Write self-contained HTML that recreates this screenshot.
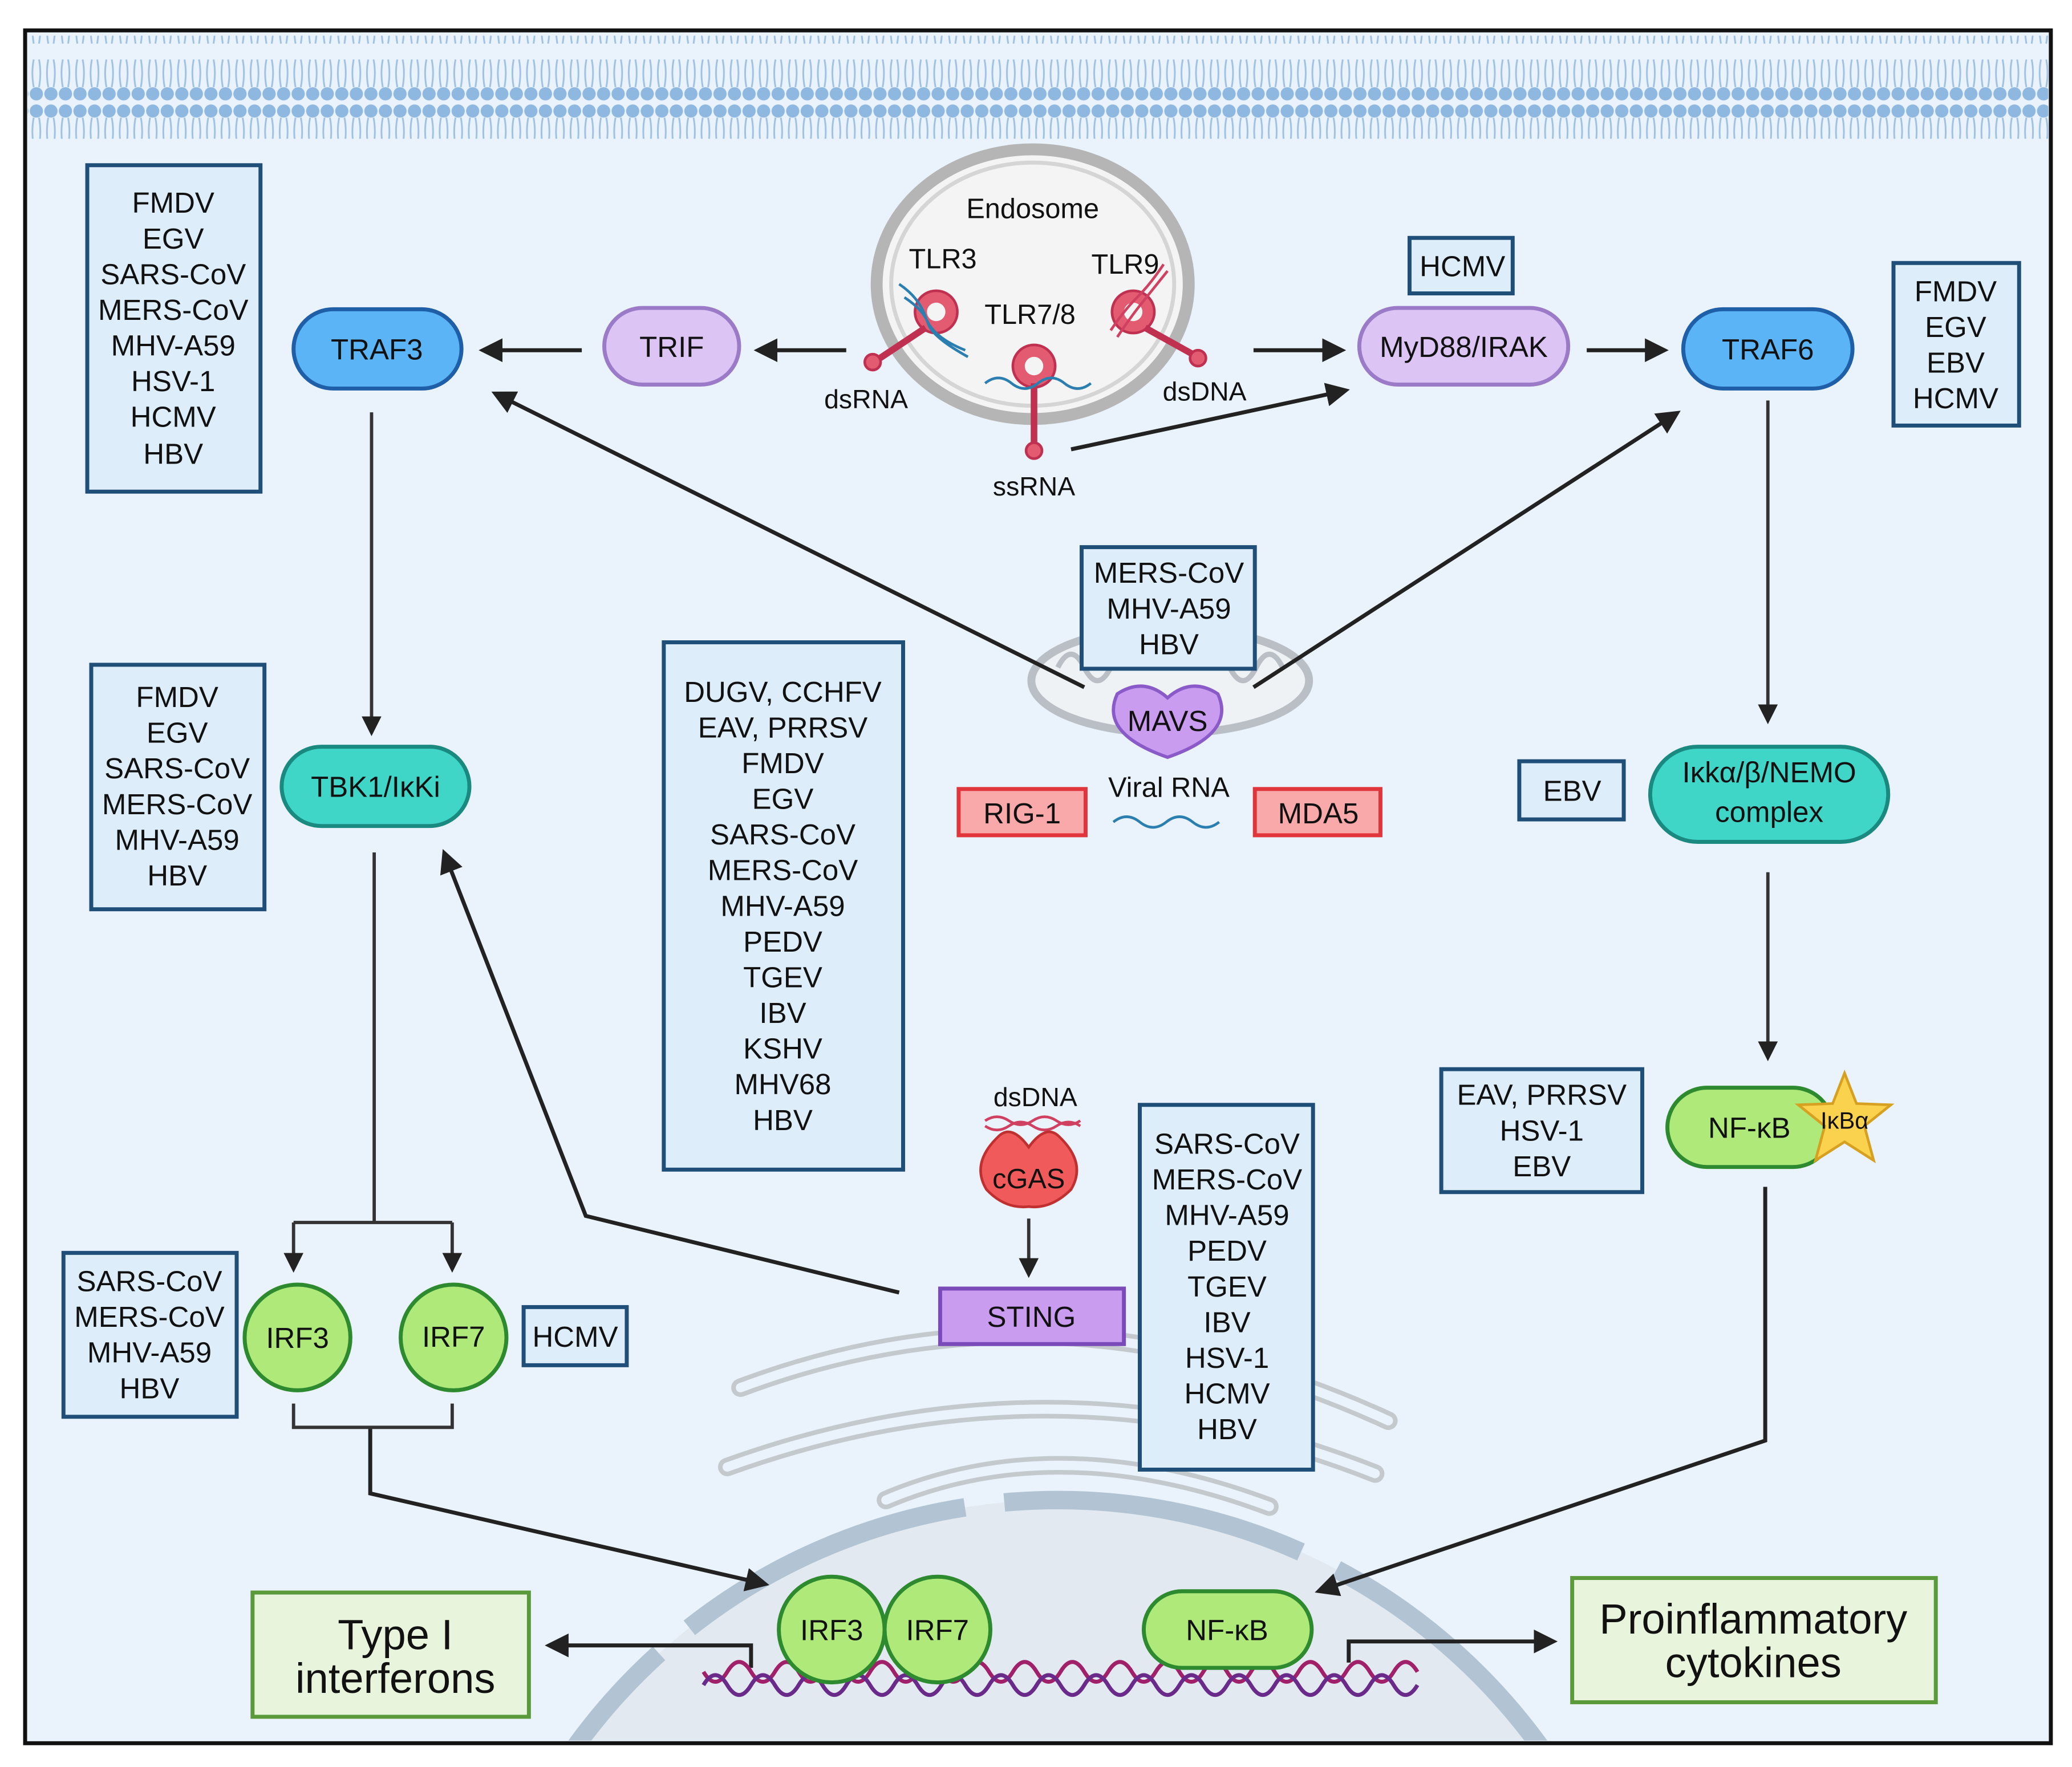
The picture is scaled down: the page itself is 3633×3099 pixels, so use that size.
<!DOCTYPE html>
<html><head><meta charset="utf-8"><style>
html,body{margin:0;padding:0;background:#fff;overflow:hidden;width:3633px;height:3099px}
svg{display:block}
text{font-family:"Liberation Sans",sans-serif;fill:#111}
</style></head><body>
<svg width="3633" height="3099" viewBox="0 0 1567 1337" preserveAspectRatio="none" xmlns="http://www.w3.org/2000/svg" overflow="hidden">
<defs>
<marker id="ah" markerWidth="6" markerHeight="6" refX="4" refY="3" orient="auto" markerUnits="strokeWidth"><path d="M0,0 L6,3 L0,6 z" fill="#222"/></marker>
<pattern id="mem" width="11" height="78" patternUnits="userSpaceOnUse">
<circle cx="5.5" cy="6" r="5" fill="#8fb8e0"/><circle cx="5.5" cy="71" r="5" fill="#8fb8e0"/>
<path d="M3.5,11 q-2,10 0,22 M7.5,11 q2,10 0,22 M3.5,45 q-2,10 0,21 M7.5,45 q2,10 0,21" stroke="#9fc2e4" stroke-width="1.3" fill="none"/>
</pattern>
<clipPath id="fr"><rect x="21" y="25" width="1528" height="1292"/></clipPath>
</defs>
<rect x="0" y="0" width="1567" height="1337" fill="#fff"/>
<rect x="19" y="23" width="1532" height="1296" fill="#eaf3fb" stroke="#111" stroke-width="3"/>
<rect x="21" y="27" width="1528" height="78" fill="url(#mem)"/>

<g clip-path="url(#fr)">
<circle cx="800" cy="1585" r="450" fill="#e2e9f0" stroke="#b2c4d3" stroke-width="14" stroke-dasharray="230 30"/>
</g>
<g fill="none" stroke="#c4c9ce" stroke-width="14" stroke-linecap="round">
<path d="M560,1050 Q800,960 1050,1075"/>
<path d="M550,1110 Q800,1020 1040,1115"/>
<path d="M670,1135 Q800,1080 960,1140"/>
</g>
<g fill="none" stroke="#eaf3fb" stroke-width="7" stroke-linecap="round">
<path d="M560,1050 Q800,960 1050,1075"/>
<path d="M550,1110 Q800,1020 1040,1115"/>
<path d="M670,1135 Q800,1080 960,1140"/>
</g>
<ellipse cx="885" cy="515" rx="105" ry="40" fill="#eef2f5" stroke="#b9bfc5" stroke-width="6"/>
<path d="M800,505 q10,-20 20,0 q10,20 20,0 q10,-20 20,0 M910,505 q10,-20 20,0 q10,20 20,0 q10,-20 20,0" stroke="#b9bfc5" stroke-width="4" fill="none"/>

<ellipse cx="781" cy="215" rx="118" ry="102" fill="#f4f4f4" stroke="#b5b5b5" stroke-width="9"/>
<ellipse cx="781" cy="215" rx="107" ry="92" fill="none" stroke="#d5d5d5" stroke-width="3"/>
<text x="781" y="165" font-size="21" text-anchor="middle" fill="#555">Endosome</text>
<g fill="#e35b70" stroke="#c03050" stroke-width="2">
<circle cx="708" cy="236" r="16"/><path d="M700,248 L664,272" stroke-width="5"/><circle cx="660" cy="274" r="6"/>
<circle cx="782" cy="277" r="16"/><path d="M782,290 L782,335" stroke-width="5"/><circle cx="782" cy="341" r="6"/>
<circle cx="857" cy="236" r="16"/><path d="M866,248 L902,268" stroke-width="5"/><circle cx="906" cy="271" r="6"/>
</g>
<circle cx="708" cy="236" r="7" fill="#f4f4f4"/><circle cx="782" cy="277" r="7" fill="#f4f4f4"/><circle cx="857" cy="236" r="7" fill="#f4f4f4"/>
<path d="M680,215 q15,10 20,25 t30,25 M684,225 q15,10 18,20 t30,25" stroke="#2a7fb0" stroke-width="2" fill="none"/>
<path d="M745,290 q10,-8 20,0 t20,0 t20,0 t20,0" stroke="#2a7fb0" stroke-width="2" fill="none"/>
<path d="M840,250 q10,-15 20,-25 t20,-25 M845,255 q10,-15 18,-25 t20,-25" stroke="#d04060" stroke-width="2" fill="none"/>
<text x="713" y="203" font-size="21" text-anchor="middle">TLR3</text>
<text x="779" y="245" font-size="21" text-anchor="middle">TLR7/8</text>
<text x="851" y="207" font-size="21" text-anchor="middle">TLR9</text>
<text x="655" y="309" font-size="20" text-anchor="middle" fill="#444">dsRNA</text>
<text x="911" y="303" font-size="20" text-anchor="middle" fill="#444">dsDNA</text>
<text x="782" y="375" font-size="20" text-anchor="middle" fill="#444">ssRNA</text>

<g stroke="#222" stroke-width="3" fill="none" marker-end="url(#ah)">
<path d="M440,265 L368,265"/>
<path d="M640,265 L576,265"/>
<path d="M948,265 L1012,265"/>
<path d="M1200,265 L1256,265"/>
<path d="M810,340 L1015,296"/>
<path d="M820,520 L377,299"/>
<path d="M948,520 L1266,314"/>
<path d="M680,978 L443,920 L337,648"/>
<path d="M280,1080 L280,1130 L576,1198"/>
<path d="M1335,898 L1335,1090 L1000,1203"/>
<path d="M568,1262 L568,1245 L418,1245"/>
<path d="M1020,1258 L1020,1242 L1172,1242"/>
</g>
<g stroke="#333" stroke-width="2.5" fill="none" marker-end="url(#ah)">
<path d="M281,312 L281,552"/>
<path d="M1337,303 L1337,543"/>
<path d="M1337,660 L1337,798"/>
<path d="M778,922 L778,962"/>
<path d="M222,925 L222,958"/>
<path d="M342,925 L342,958"/>
</g>
<path d="M283,645 L283,925 M222,925 L342,925" stroke="#333" stroke-width="2.5" fill="none"/>
<path d="M222,1062 L222,1080 L342,1080 L342,1062" stroke="#333" stroke-width="2.5" fill="none"/>

<g fill="#ddeefa" stroke="#1f4e79" stroke-width="3">
<rect x="66" y="125" width="131" height="247"/>
<rect x="69" y="503" width="131" height="185"/>
<rect x="502" y="486" width="181" height="399"/>
<rect x="818" y="414" width="131" height="92"/>
<rect x="1066" y="180" width="78" height="42"/>
<rect x="1432" y="199" width="95" height="123"/>
<rect x="1149" y="576" width="79" height="44"/>
<rect x="1090" y="809" width="152" height="93"/>
<rect x="862" y="836" width="131" height="276"/>
<rect x="48" y="948" width="131" height="124"/>
<rect x="396" y="989" width="78" height="44"/>
</g>
<g font-size="22" text-anchor="middle">
<text x="131" y="161">FMDV</text><text x="131" y="188">EGV</text><text x="131" y="215">SARS-CoV</text><text x="131" y="242">MERS-CoV</text><text x="131" y="269">MHV-A59</text><text x="131" y="296">HSV-1</text><text x="131" y="323">HCMV</text><text x="131" y="351">HBV</text>
<text x="134" y="535">FMDV</text><text x="134" y="562">EGV</text><text x="134" y="589">SARS-CoV</text><text x="134" y="616">MERS-CoV</text><text x="134" y="643">MHV-A59</text><text x="134" y="670">HBV</text>
<text x="592" y="531">DUGV, CCHFV</text><text x="592" y="558">EAV, PRRSV</text><text x="592" y="585">FMDV</text><text x="592" y="612">EGV</text><text x="592" y="639">SARS-CoV</text><text x="592" y="666">MERS-CoV</text><text x="592" y="693">MHV-A59</text><text x="592" y="720">PEDV</text><text x="592" y="747">TGEV</text><text x="592" y="774">IBV</text><text x="592" y="801">KSHV</text><text x="592" y="828">MHV68</text><text x="592" y="855">HBV</text>
<text x="884" y="441">MERS-CoV</text><text x="884" y="468">MHV-A59</text><text x="884" y="495">HBV</text>
<text x="1106" y="209">HCMV</text>
<text x="1479" y="228">FMDV</text><text x="1479" y="255">EGV</text><text x="1479" y="282">EBV</text><text x="1479" y="309">HCMV</text>
<text x="1189" y="606">EBV</text>
<text x="1166" y="836">EAV, PRRSV</text><text x="1166" y="863">HSV-1</text><text x="1166" y="890">EBV</text>
<text x="928" y="873">SARS-CoV</text><text x="928" y="900">MERS-CoV</text><text x="928" y="927">MHV-A59</text><text x="928" y="954">PEDV</text><text x="928" y="981">TGEV</text><text x="928" y="1008">IBV</text><text x="928" y="1035">HSV-1</text><text x="928" y="1062">HCMV</text><text x="928" y="1089">HBV</text>
<text x="113" y="977">SARS-CoV</text><text x="113" y="1004">MERS-CoV</text><text x="113" y="1031">MHV-A59</text><text x="113" y="1058">HBV</text>
<text x="435" y="1019">HCMV</text>
</g>

<rect x="222" y="234" width="127" height="60" rx="30" fill="#5ab4f5" stroke="#1f5fa8" stroke-width="3"/>
<text x="285" y="272" font-size="22" text-anchor="middle" fill="#1a3f7a">TRAF3</text>
<rect x="1273" y="234" width="128" height="60" rx="30" fill="#5ab4f5" stroke="#1f5fa8" stroke-width="3"/>
<text x="1337" y="272" font-size="22" text-anchor="middle" fill="#1a3f7a">TRAF6</text>
<rect x="457" y="233" width="102" height="58" rx="29" fill="#dcc4f4" stroke="#9b7bc8" stroke-width="3"/>
<text x="508" y="270" font-size="22" text-anchor="middle" fill="#2a2a80">TRIF</text>
<rect x="1028" y="233" width="158" height="58" rx="29" fill="#dcc4f4" stroke="#9b7bc8" stroke-width="3"/>
<text x="1107" y="270" font-size="22" text-anchor="middle" fill="#2a2a80">MyD88/IRAK</text>
<rect x="213" y="565" width="142" height="60" rx="30" fill="#3fd6c8" stroke="#1a8a80" stroke-width="3"/>
<text x="284" y="603" font-size="22" text-anchor="middle">TBK1/IκKi</text>
<rect x="1248" y="565" width="180" height="72" rx="36" fill="#3fd6c8" stroke="#1a8a80" stroke-width="3"/>
<text x="1338" y="592" font-size="22" text-anchor="middle" fill="#1a3f7a">Iκkα/β/NEMO</text>
<text x="1338" y="622" font-size="22" text-anchor="middle" fill="#1a3f7a">complex</text>
<path d="M845,525 Q865,512 883,528 Q901,512 921,525 Q935,555 883,573 Q831,555 845,525 z" fill="#c99cf0" stroke="#8a5ac8" stroke-width="2.5"/>
<text x="883" y="553" font-size="22" text-anchor="middle" fill="#8b1a1a">MAVS</text>
<rect x="725" y="597" width="96" height="35" fill="#f9a9a9" stroke="#e0363b" stroke-width="3"/>
<text x="773" y="623" font-size="22" text-anchor="middle" fill="#8b1a1a">RIG-1</text>
<rect x="949" y="597" width="95" height="35" fill="#f9a9a9" stroke="#e0363b" stroke-width="3"/>
<text x="997" y="623" font-size="22" text-anchor="middle" fill="#8b1a1a">MDA5</text>
<text x="884" y="603" font-size="21" text-anchor="middle" fill="#333">Viral RNA</text>
<path d="M842,622 q10,-8 20,0 t20,0 t20,0 t20,0" stroke="#2a7fb0" stroke-width="2" fill="none"/>
<rect x="1261" y="823" width="125" height="60" rx="30" fill="#aee97a" stroke="#2e8a2e" stroke-width="3"/>
<text x="1323" y="861" font-size="22" text-anchor="middle">NF-κB</text>
<polygon points="1395,812 1404,835 1430,836 1410,852 1417,878 1395,864 1373,878 1380,852 1360,836 1386,835" fill="#fbd24e" stroke="#d6a020" stroke-width="2"/>
<text x="1395" y="854" font-size="18" text-anchor="middle">IκBα</text>
<text x="783" y="837" font-size="20" text-anchor="middle" fill="#333">dsDNA</text>
<path d="M745,848 q9,-6 18,0 t18,0 t18,0 t18,0 M745,852 q9,6 18,0 t18,0 t18,0 t18,0" stroke="#d04060" stroke-width="2" fill="none"/>
<path d="M755,860 Q765,850 778,868 Q791,850 801,860 Q822,880 810,900 Q795,915 778,913 Q760,915 746,900 Q734,880 755,860 z" fill="#f05a5a" stroke="#c03030" stroke-width="2"/>
<text x="778" y="899" font-size="21" text-anchor="middle" fill="#8b1a1a">cGAS</text>
<rect x="711" y="975" width="139" height="42" fill="#c99cf0" stroke="#7a4ab8" stroke-width="3"/>
<text x="780" y="1004" font-size="22" text-anchor="middle" fill="#2a2a80">STING</text>
<g fill="#aee97a" stroke="#2e8a2e" stroke-width="3">
<circle cx="225" cy="1012" r="40"/><circle cx="343" cy="1012" r="40"/>
</g>
<text x="225" y="1020" font-size="22" text-anchor="middle">IRF3</text>
<text x="343" y="1019" font-size="22" text-anchor="middle">IRF7</text>

<g fill="none" stroke-width="3">
<path d="M532,1265 q9,15 18,0 t18,0 t18,0 t18,0 t18,0 t18,0 t18,0 t18,0 t18,0 t18,0 t18,0 t18,0 t18,0 t18,0 t18,0 t18,0 t18,0 t18,0 t18,0 t18,0 t18,0 t18,0 t18,0 t18,0 t18,0 t18,0 t18,0 t18,0 t18,0 t18,0" stroke="#a0206a"/>
<path d="M532,1275 q9,-15 18,0 t18,0 t18,0 t18,0 t18,0 t18,0 t18,0 t18,0 t18,0 t18,0 t18,0 t18,0 t18,0 t18,0 t18,0 t18,0 t18,0 t18,0 t18,0 t18,0 t18,0 t18,0 t18,0 t18,0 t18,0 t18,0 t18,0 t18,0 t18,0 t18,0" stroke="#6a2a8a"/>
</g>
<g fill="#aee97a" stroke="#2e8a2e" stroke-width="3">
<circle cx="629" cy="1233" r="40"/><circle cx="709" cy="1233" r="40"/>
<rect x="865" y="1204" width="127" height="58" rx="29"/>
</g>
<text x="629" y="1241" font-size="22" text-anchor="middle">IRF3</text>
<text x="709" y="1241" font-size="22" text-anchor="middle">IRF7</text>
<text x="928" y="1241" font-size="22" text-anchor="middle">NF-κB</text>

<rect x="191" y="1205" width="209" height="94" fill="#e9f4dc" stroke="#5a9a3a" stroke-width="3"/>
<text x="299" y="1248" font-size="32" text-anchor="middle">Type I</text>
<text x="299" y="1281" font-size="32" text-anchor="middle">interferons</text>
<rect x="1189" y="1194" width="275" height="94" fill="#e9f4dc" stroke="#5a9a3a" stroke-width="3"/>
<text x="1326" y="1236" font-size="32" text-anchor="middle">Proinflammatory</text>
<text x="1326" y="1269" font-size="32" text-anchor="middle">cytokines</text>
</svg>
</body></html>
